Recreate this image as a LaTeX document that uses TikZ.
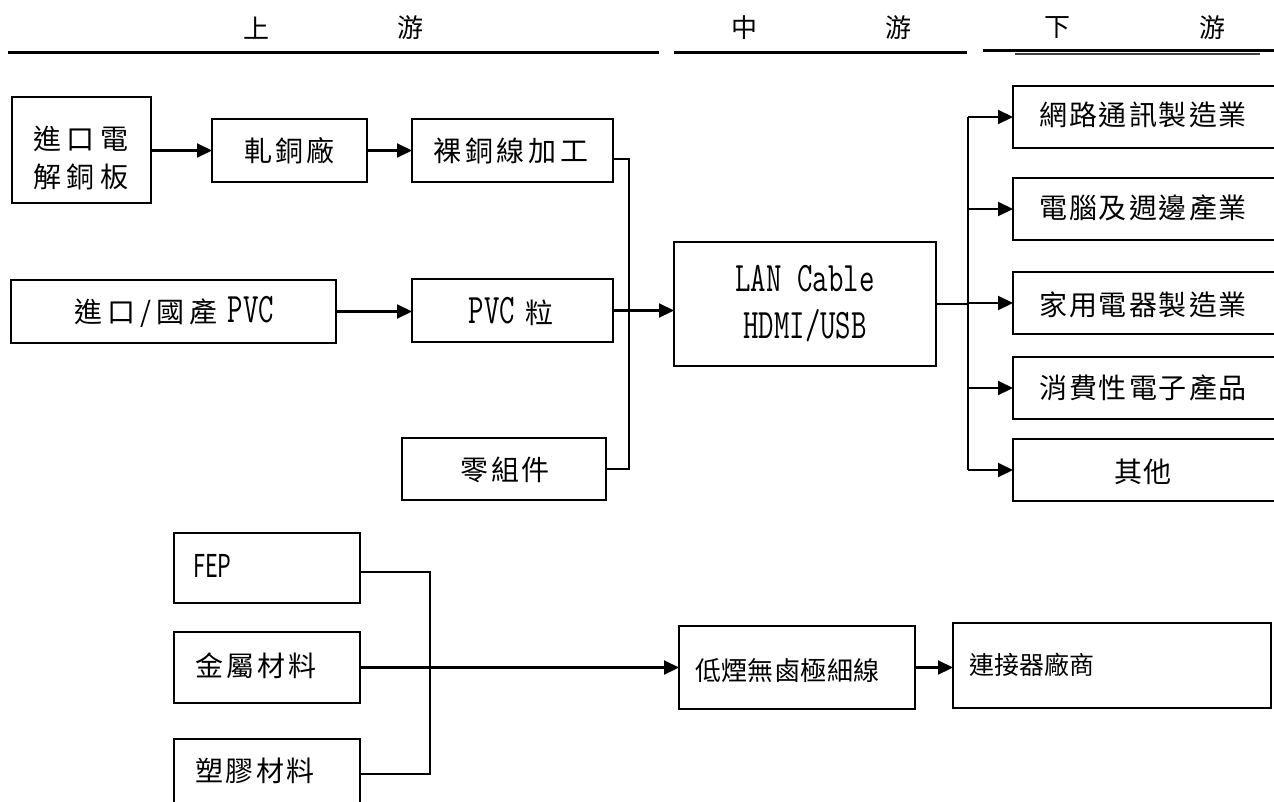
\documentclass[tikz,border=0pt]{standalone}
\usepackage{graphicx}
\usepackage{fontspec}
\setmainfont{Noto Sans CJK TC}
\usetikzlibrary{arrows.meta,calc}
\newcommand\lat[1]{\scalebox{1}[1.4]{\fontsize{30}{30}\selectfont\ttfamily #1}}
\newcommand\spr[2]{\makebox[#1][s]{#2}}
\begin{document}
\begin{tikzpicture}[x=1pt,y=-1pt,
  box/.style={draw, line width=2.1pt, anchor=north west, inner sep=0pt, outer sep=0pt},
  lbl/.style={inner sep=0pt, font=\fontsize{28}{38}\selectfont},
  hd/.style={inner sep=0pt, font=\fontsize{26}{30}\selectfont},
  con/.style={line width=2.1pt},
  arr/.style={line width=2.1pt, -{Triangle[length=15pt,width=14pt]}},
  rulel/.style={line width=3pt}]
\useasboundingbox (0,0) rectangle (1274,801);
\fill[white] (0,0) rectangle (1274,801);

% header
\node[hd] (h1) at (256,28) {上};
\node[hd] (h2) at (410,28) {游};
\node[hd] (h3) at (744,28) {中};
\node[hd] (h4) at (898,28) {游};
\node[hd] (h5) at (1057,28) {下};
\node[hd] (h6) at (1212,28) {游};
\draw[rulel] (8,52) -- (659,52);
\draw[rulel] (674,52) -- (967,52);
\draw[rulel] (983,50) -- (1280,50);
\draw[line width=1.6pt, black!75] (1015,53.8) -- (1260,53.8);

% upstream boxes
\node[box, minimum width=139pt, minimum height=106pt] (cu) at (12,97) {};
\node[lbl, align=center] (cut) at (81,158) {\spr{96pt}{進\hfill 口\hfill 電}\\\spr{96pt}{解\hfill 銅\hfill 板}};
\node[box, minimum width=155pt, minimum height=63pt] (roll) at (212,119) {};
\node[lbl] (rollt) at (289.5,151) {\spr{90pt}{軋\hfill 銅\hfill 廠}};
\node[box, minimum width=201pt, minimum height=63pt] (bare) at (412,119) {};
\node[lbl] (baret) at (511,151) {\spr{155pt}{裸\hfill 銅\hfill 線\hfill 加\hfill 工}};
\node[box, minimum width=325pt, minimum height=63pt] (pvcin) at (11,280) {};
\node[lbl] (pvcint) at (174,312) {\spr{200pt}{進\hfill 口\hfill /\hfill 國\hfill 產\hfill\hfill\lat{PVC}}};
\node[box, minimum width=201pt, minimum height=63pt] (pvcg) at (412,279) {};
\node[lbl] (pvcgt) at (511,312) {\lat{PVC}\hspace{10pt}粒};
\node[box, minimum width=204pt, minimum height=62pt] (parts) at (402,438) {};
\node[lbl] (partst) at (505,470) {\spr{90pt}{零\hfill 組\hfill 件}};

% midstream
\node[box, minimum width=262pt, minimum height=124pt] (lan) at (674,242) {};
\node[lbl] (lant1) at (805,279) {\lat{LAN Cable}};
\node[lbl] (lant2) at (805,326) {\lat{HDMI/USB}};

% downstream
\node[box, minimum width=265pt, minimum height=62pt] (d1) at (1013,86) {};
\node[box, minimum width=265pt, minimum height=62pt] (d2) at (1013,178) {};
\node[box, minimum width=265pt, minimum height=62pt] (d3) at (1013,272) {};
\node[box, minimum width=265pt, minimum height=62pt] (d4) at (1013,357) {};
\node[box, minimum width=265pt, minimum height=62pt] (d5) at (1013,439) {};
\node[lbl] (d1t) at (1143,115) {\spr{208pt}{網\hfill 路\hfill 通\hfill 訊\hfill 製\hfill 造\hfill 業}};
\node[lbl] (d2t) at (1143,208) {\spr{208pt}{電\hfill 腦\hfill 及\hfill 週\hfill 邊\hfill 產\hfill 業}};
\node[lbl] (d3t) at (1143,305) {\spr{208pt}{家\hfill 用\hfill 電\hfill 器\hfill 製\hfill 造\hfill 業}};
\node[lbl] (d4t) at (1143,388) {\spr{208pt}{消\hfill 費\hfill 性\hfill 電\hfill 子\hfill 產\hfill 品}};
\node[lbl] (d5t) at (1143,472) {\spr{57pt}{其\hfill 他}};

% bottom chain
\node[box, minimum width=186pt, minimum height=70pt] (fep) at (174,533) {};
\node[lbl, anchor=west] (fept) at (193,566) {\scalebox{0.72}[1.05]{\fontsize{30}{30}\selectfont\rmfamily FEP}};
\node[box, minimum width=186pt, minimum height=71pt] (metal) at (174,632) {};
\node[lbl] (metalt) at (256,666) {\spr{121pt}{金\hfill 屬\hfill 材\hfill 料}};
\node[box, minimum width=186pt, minimum height=70pt] (plastic) at (174,739) {};
\node[lbl] (plastict) at (255,771) {\spr{119pt}{塑\hfill 膠\hfill 材\hfill 料}};
\node[box, minimum width=236pt, minimum height=83pt] (lsz) at (679,626) {};
\node[lbl, font=\fontsize{26}{30}\selectfont] (lszt) at (787.5,671) {\spr{185pt}{低\hfill 煙\hfill 無\hfill 鹵\hfill 極\hfill 細\hfill 線}};
\node[box, minimum width=318pt, minimum height=85pt] (conn) at (953,623) {};
\node[lbl, font=\fontsize{25}{30}\selectfont] (connt) at (1032,665) {連接器廠商};

% connectors upstream
\draw[arr] (cu.east |- roll.west) -- (roll.west);
\draw[arr] (roll.east) -- (bare.west);
\coordinate (j1) at (629,159);
\draw[con] (bare.east |- j1) -- (j1) -- (j1 |- parts.east) -- (parts.east);
\draw[arr] (pvcin.east) -- (pvcin.east -| pvcg.west);
\draw[arr] (pvcg.east) -- (pvcg.east -| lan.west);
% downstream fan
\coordinate (j2) at (968,304);
\draw[con] (lan.east |- j2) -- (j2);
\draw[con] (j2 |- d1.west) -- (j2 |- d5.west);
\foreach \d in {d1,d2,d3,d4,d5} \draw[arr] (j2 |- \d.west) -- (\d.west);
% bottom
\coordinate (j3) at (430,572);
\draw[con] (fep.east |- j3) -- (j3) -- (j3 |- plastic.east) -- (plastic.east);
\draw[arr] (metal.east) -- (metal.east -| lsz.west);
\draw[arr] (lsz.east) -- (lsz.east -| conn.west);
\end{tikzpicture}
\end{document}
